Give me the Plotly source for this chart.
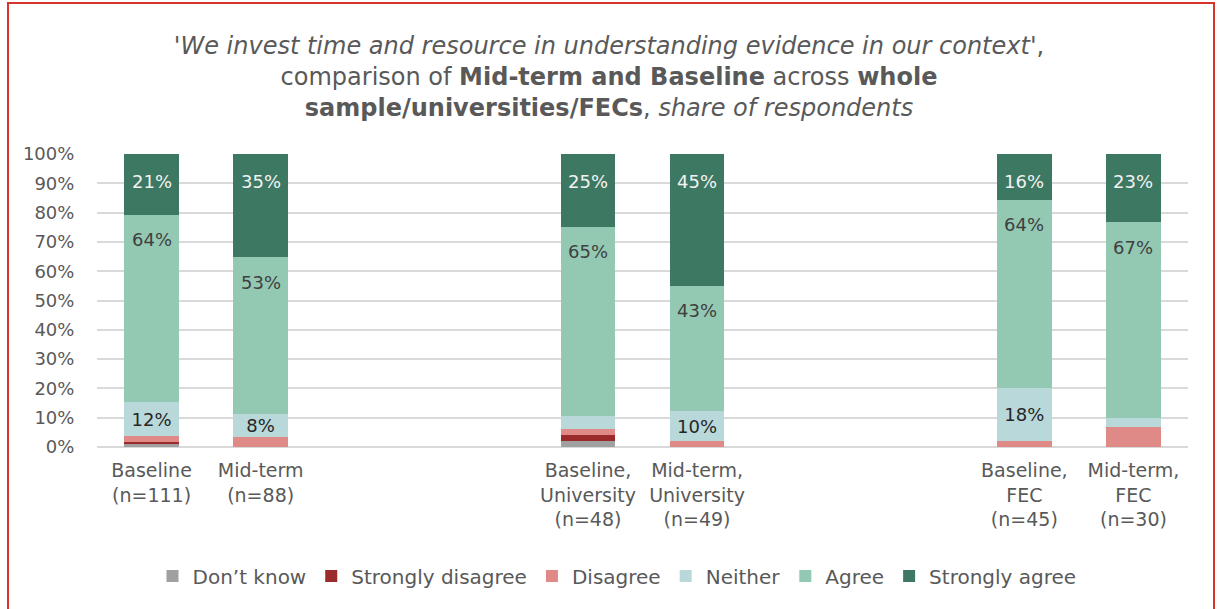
import plotly.graph_objects as go

# ---- data ----
categories = ["Baseline<br>(n=111)", "Mid-term<br>(n=88)",
              "Baseline,<br>University<br>(n=48)", "Mid-term,<br>University<br>(n=49)",
              "Baseline,<br>FEC<br>(n=45)", "Mid-term,<br>FEC<br>(n=30)"]
cat_pos = [0, 1, 4, 5, 8, 9]  # slots on a 10-slot axis, blank slots separate groups

dont_know = [0.9, 0.0, 2.1, 0.0, 0.0, 0.0]
strongly_disagree = [0.9, 0.0, 2.1, 0.0, 0.0, 0.0]
disagree = [1.8, 3.4, 2.1, 2.0, 2.2, 6.7]
neither = [11.7, 8.0, 4.2, 10.2, 17.8, 3.3]
agree = [64.0, 53.4, 64.6, 42.9, 64.4, 66.7]
strongly_agree = [20.7, 35.2, 25.0, 44.9, 15.6, 23.3]

neither_show = [True, True, False, True, True, False]

series = [
    ("Don\u2019t know", dont_know, "#a0a0a0"),
    ("Strongly disagree", strongly_disagree, "#9b2a2b"),
    ("Disagree", disagree, "#e08a87"),
    ("Neither", neither, "#b9d8da"),
    ("Agree", agree, "#93c9b3"),
    ("Strongly agree", strongly_agree, "#3d7862"),
]

FONT = "DejaVu Sans"
GREY = "#595959"

fig = go.Figure()
for name, vals, color in series:
    if name == "Neither":
        text = [f"{round(v)}%" if s else "" for v, s in zip(vals, neither_show)]
    else:
        text = None
    fig.add_trace(go.Bar(
        x=cat_pos, y=vals, name=name, marker=dict(color=color, line=dict(width=0)),
        width=0.5, text=text, texttemplate="%{text}" if text else None,
        textposition="inside" if text else "none",
        insidetextanchor="middle",
        textfont=dict(family=FONT, size=18, color="#262626"),
        textangle=0, constraintext="none", hoverinfo="skip",
    ))

# labels for Agree / Strongly agree, placed just inside the top of each segment
annotations = []
base = [a + b + c + d for a, b, c, d in zip(dont_know, strongly_disagree, disagree, neither)]
for i, x in enumerate(cat_pos):
    top_agree = base[i] + agree[i]
    top_sa = top_agree + strongly_agree[i]
    annotations.append(dict(x=x, y=top_agree, xref="x", yref="y", text=f"{round(agree[i])}%",
                            showarrow=False, yshift=-25, yanchor="middle",
                            font=dict(family=FONT, size=18, color="#404040")))
    annotations.append(dict(x=x, y=min(top_sa, 100), xref="x", yref="y",
                            text=f"{round(strongly_agree[i])}%",
                            showarrow=False, yshift=-27, yanchor="middle",
                            font=dict(family=FONT, size=18, color="#f2f2f2")))

fig.update_layout(
    barmode="stack",
    width=1218, height=609,
    margin=dict(l=97, r=30, t=154, b=162),
    paper_bgcolor="white", plot_bgcolor="white",
    font=dict(family=FONT, color=GREY, size=18),
    title=dict(
        text="<i>'We invest time and resource in understanding evidence in our context'</i>,"
             "<br>comparison of <b>Mid-term and Baseline</b> across <b>whole"
             "<br>sample/universities/FECs</b>, <i>share of respondents</i>",
        x=0.5, xref="container", xanchor="center",
        y=1 - 54 / 609, yref="container", yanchor="top",
        font=dict(family=FONT, size=24, color=GREY),
    ),
    xaxis=dict(
        range=[-0.5, 9.5], tickmode="array", tickvals=cat_pos, ticktext=categories,
        showgrid=False, zeroline=False, showline=False,
        ticks="outside", ticklen=6, tickcolor="rgba(0,0,0,0)",
        tickfont=dict(family=FONT, size=19, color=GREY),
    ),
    yaxis=dict(
        range=[0, 100], tickmode="array", tickvals=list(range(0, 101, 10)),
        ticktext=[f"{v}%" for v in range(0, 101, 10)],
        showgrid=True, gridcolor="#d9d9d9", gridwidth=1.5,
        zeroline=True, zerolinecolor="#d9d9d9", zerolinewidth=1.5,
        ticks="outside", ticklen=18, tickcolor="rgba(0,0,0,0)",
        tickfont=dict(family=FONT, size=18, color=GREY),
    ),
    legend=dict(
        orientation="h", x=(617 - 97) / 1091, xanchor="center", y=-0.44, yanchor="middle",
        font=dict(family=FONT, size=20, color=GREY), traceorder="normal",
        itemwidth=30,
    ),
    annotations=annotations,
    shapes=[dict(type="rect", xref="paper", yref="paper",
                 x0=(8 - 97) / 1091, x1=(1214 - 97) / 1091,
                 y0=(447 - 615) / 293, y1=(447 - 3) / 293,
                 line=dict(color="#d9342b", width=2), fillcolor="rgba(0,0,0,0)",
                 layer="below")],
)

fig.write_html("out.html", config={"displayModeBar": False},
               post_script="document.body.style.margin='0';")
